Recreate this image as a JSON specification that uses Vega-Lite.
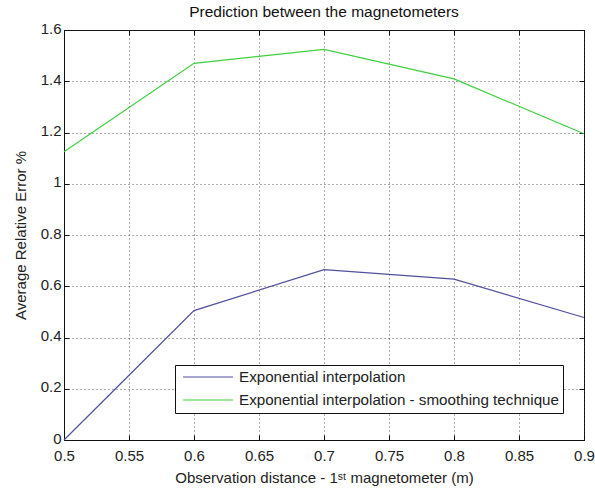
{
  "$schema": "https://vega.github.io/schema/vega-lite/v6.json",
  "width": 520,
  "height": 410,
  "autosize": {"type": "none"},
  "padding": {"left": 64, "top": 30, "right": 11, "bottom": 51},
  "background": "white",
  "title": {
    "text": "Prediction between the magnetometers",
    "font": "Liberation Sans",
    "fontSize": 15.5,
    "fontWeight": "normal",
    "color": "#111",
    "offset": 1
  },
  "data": {
    "values": [
      {"d": 0.5, "err": 0.0, "method": "Exponential interpolation"},
      {"d": 0.6, "err": 0.505, "method": "Exponential interpolation"},
      {"d": 0.7, "err": 0.665, "method": "Exponential interpolation"},
      {"d": 0.8, "err": 0.628, "method": "Exponential interpolation"},
      {"d": 0.9, "err": 0.478, "method": "Exponential interpolation"},
      {"d": 0.5, "err": 1.125, "method": "Exponential interpolation - smoothing technique"},
      {"d": 0.6, "err": 1.47, "method": "Exponential interpolation - smoothing technique"},
      {"d": 0.7, "err": 1.524, "method": "Exponential interpolation - smoothing technique"},
      {"d": 0.8, "err": 1.409, "method": "Exponential interpolation - smoothing technique"},
      {"d": 0.9, "err": 1.195, "method": "Exponential interpolation - smoothing technique"}
    ]
  },
  "layer": [
    {
      "mark": {"type": "line", "strokeWidth": 1.2},
      "encoding": {
        "x": {
          "field": "d",
          "type": "quantitative",
          "scale": {"domain": [0.5, 0.9], "nice": false, "zero": false},
          "axis": {
            "orient": "bottom",
            "title": "Observation distance - 1ˢᵗ magnetometer (m)",
            "values": [0.5, 0.55, 0.6, 0.65, 0.7, 0.75, 0.8, 0.85, 0.9],
            "format": "~g",
            "grid": true,
            "labelFlush": false,
            "tickSize": -5,
            "labelPadding": 13,
            "titlePadding": 7
          }
        },
        "y": {
          "field": "err",
          "type": "quantitative",
          "scale": {"domain": [0, 1.6], "nice": false},
          "axis": {
            "orient": "left",
            "title": "Average Relative Error %",
            "values": [0, 0.2, 0.4, 0.6, 0.8, 1, 1.2, 1.4, 1.6],
            "format": "~g",
            "grid": true,
            "labelFlush": false,
            "labelOffset": -2,
            "tickSize": -5,
            "labelPadding": 8,
            "titlePadding": 12
          }
        },
        "color": {
          "field": "method",
          "type": "nominal",
          "scale": {
            "domain": ["Exponential interpolation", "Exponential interpolation - smoothing technique"],
            "range": ["#4f4f9e", "#3fd03f"]
          },
          "legend": {
            "title": null,
            "orient": "none",
            "legendX": 111,
            "legendY": 335,
            "strokeColor": "#111",
            "fillColor": "white",
            "padding": 4,
            "symbolType": "M-3.57,0H3.57",
            "symbolSize": 196,
            "symbolStrokeWidth": 1.2,
            "symbolOffset": 21,
            "labelOffset": 23,
            "labelFont": "Liberation Sans",
            "labelFontSize": 15.2,
            "labelColor": "#222",
            "labelLimit": 500,
            "rowPadding": 6
          }
        }
      }
    },
    {
      "mark": {"type": "point", "opacity": 0},
      "encoding": {
        "x": {
          "field": "d",
          "type": "quantitative",
          "axis": {
            "orient": "top",
            "title": null,
            "labels": false,
            "grid": false,
            "domain": false,
            "values": [0.5, 0.55, 0.6, 0.65, 0.7, 0.75, 0.8, 0.85, 0.9],
            "tickSize": -5
          }
        },
        "y": {
          "field": "err",
          "type": "quantitative",
          "axis": {
            "orient": "right",
            "title": null,
            "labels": false,
            "grid": false,
            "domain": false,
            "values": [0, 0.2, 0.4, 0.6, 0.8, 1, 1.2, 1.4, 1.6],
            "tickSize": -5
          }
        }
      }
    }
  ],
  "resolve": {"axis": {"x": "independent", "y": "independent"}},
  "config": {
    "view": {"stroke": "#111", "strokeWidth": 1},
    "axis": {
      "domainColor": "#111",
      "tickColor": "#111",
      "gridColor": "#333",
      "gridDash": [1, 3],
      "gridOpacity": 0.8,
      "labelFont": "Liberation Sans",
      "labelFontSize": 15,
      "labelColor": "#222",
      "titleFont": "Liberation Sans",
      "titleFontSize": 15,
      "titleFontWeight": "normal",
      "titleColor": "#222"
    }
  }
}
